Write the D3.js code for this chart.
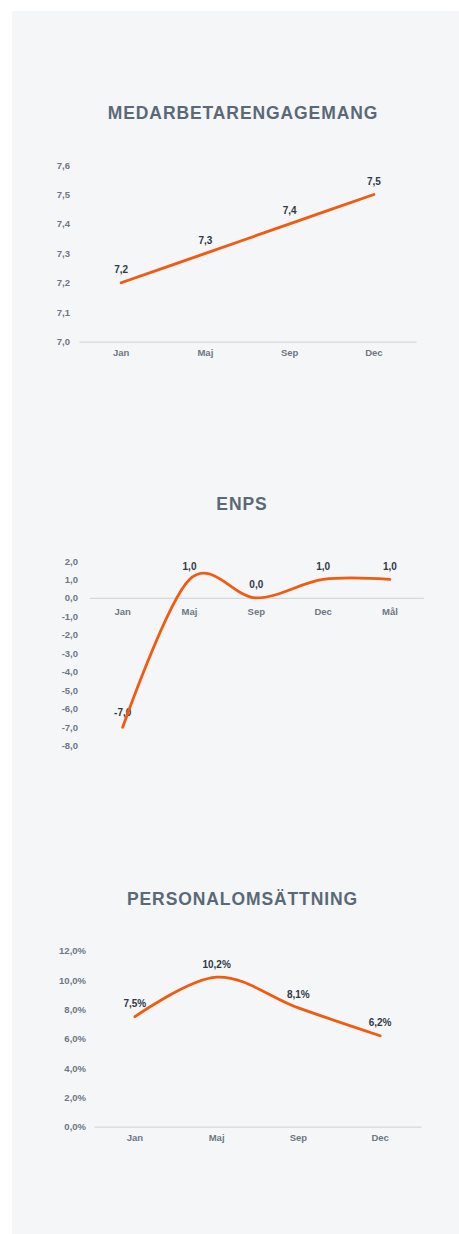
<!DOCTYPE html>
<html>
<head>
<meta charset="utf-8">
<script src="https://cdn.jsdelivr.net/npm/d3@7"></script>
<style>
  html, body { margin: 0; padding: 0; background: #fff; }
  svg { display: block; }
</style>
</head>
<body>
<svg id="page" width="459" height="1234"></svg>
<script>
// chart data
const engagementMonths = ["Jan", "Maj", "Sep", "Dec"];
const engagementValues = [7.2, 7.3, 7.4, 7.5];
const engagementTicks = [7.0, 7.1, 7.2, 7.3, 7.4, 7.5, 7.6];

const enpsMonths = ["Jan", "Maj", "Sep", "Dec", "Mål"];
const enpsValues = [-7, 1, 0, 1, 1];
const enpsTicks = [2, 1, 0, -1, -2, -3, -4, -5, -6, -7, -8];

const turnoverMonths = ["Jan", "Maj", "Sep", "Dec"];
const turnoverValues = [7.5, 10.2, 8.1, 6.2];
const turnoverTicks = [0, 2, 4, 6, 8, 10, 12];

// swedish number format, plain hyphen for minus
const sv = d3.formatLocale({ decimal: ",", thousands: " ", grouping: [3], currency: ["", " kr"], minus: "-" });
const fmt1 = sv.format(".1f");
const pct = (v) => `${fmt1(v)}%`;

const FONT = "'Liberation Sans', Arial, Helvetica, sans-serif";
const LINE = "#f15a0f";
const svg = d3.select("#page");

// grey card behind everything
svg.append("rect")
  .attr("x", 12).attr("y", 11)
  .attr("width", 460).attr("height", 1240)
  .attr("fill", "#f5f6f8");

const drawChart = (c) => {
  const g = svg.append("g");

  g.append("text")
    .attr("x", c.titleX).attr("y", c.titleY)
    .attr("dy", "0.35em")
    .attr("text-anchor", "middle")
    .attr("font-family", FONT)
    .attr("font-weight", "bold")
    .attr("font-size", 17.5)
    .attr("letter-spacing", 0.9)
    .attr("fill", "#5b6976")
    .text(c.title);

  const x = d3.scaleBand().domain(c.cats).range(c.xRange);
  const y = d3.scaleLinear().domain(c.yDomain).range(c.yRange);
  const cx = (d) => x(d) + x.bandwidth() / 2;

  // y tick labels only
  const yAxis = g.append("g")
    .attr("transform", `translate(${c.yLabelX},0)`)
    .call(d3.axisLeft(y).tickValues(c.ticks).tickFormat(c.fmt).tickSize(0).tickPadding(0));
  yAxis.select(".domain").remove();

  // x axis sits on zero (or on the bottom when zero is off scale)
  const xAxis = g.append("g")
    .attr("transform", `translate(0,${y(Math.max(0, c.yDomain[0]))})`)
    .call(d3.axisBottom(x).tickSize(0).tickPadding(c.xPad));
  xAxis.select(".domain").attr("stroke", "#d3d8dd").attr("stroke-width", 1.3);

  [yAxis, xAxis].forEach((a) => {
    a.attr("font-family", FONT).attr("font-size", 9.5);
    a.selectAll("text").attr("fill", "#6d7884").attr("font-weight", "bold");
  });

  // value labels (the line is drawn over them)
  g.selectAll(".val")
    .data(c.values)
    .enter()
    .append("text")
    .attr("class", "val")
    .attr("x", (d, i) => cx(c.cats[i]))
    .attr("y", (d) => y(d) - (d < 0 ? 15 : 13))
    .attr("dy", "0.35em")
    .attr("text-anchor", "middle")
    .attr("font-family", FONT)
    .attr("font-weight", "bold")
    .attr("font-size", 10)
    .attr("fill", "#2f3a45")
    .text(c.fmt);

  const line = d3.line()
    .x((d, i) => cx(c.cats[i]))
    .y((d) => y(d))
    .curve(d3.curveCardinal.tension(0));

  g.append("path")
    .datum(c.values)
    .attr("d", line)
    .attr("fill", "none")
    .attr("stroke", LINE)
    .attr("stroke-width", 2.8)
    .attr("stroke-linecap", "round");
};

drawChart({
  title: "MEDARBETARENGAGEMANG", titleX: 243, titleY: 113,
  cats: engagementMonths, values: engagementValues, ticks: engagementTicks,
  fmt: fmt1, xRange: [79, 416], yDomain: [7.0, 7.6], yRange: [341.7, 165],
  yLabelX: 70, xPad: 8
});

drawChart({
  title: "ENPS", titleX: 242, titleY: 503.5,
  cats: enpsMonths, values: enpsValues, ticks: enpsTicks,
  fmt: fmt1, xRange: [89.3, 423.3], yDomain: [-8, 2], yRange: [745.7, 561],
  yLabelX: 78, xPad: 10
});

drawChart({
  title: "PERSONALOMSÄTTNING", titleX: 242.5, titleY: 898.5,
  cats: turnoverMonths, values: turnoverValues, ticks: turnoverTicks,
  fmt: pct, xRange: [94, 421], yDomain: [0, 12], yRange: [1126.7, 950.7],
  yLabelX: 86, xPad: 8
});
</script>
</body>
</html>
